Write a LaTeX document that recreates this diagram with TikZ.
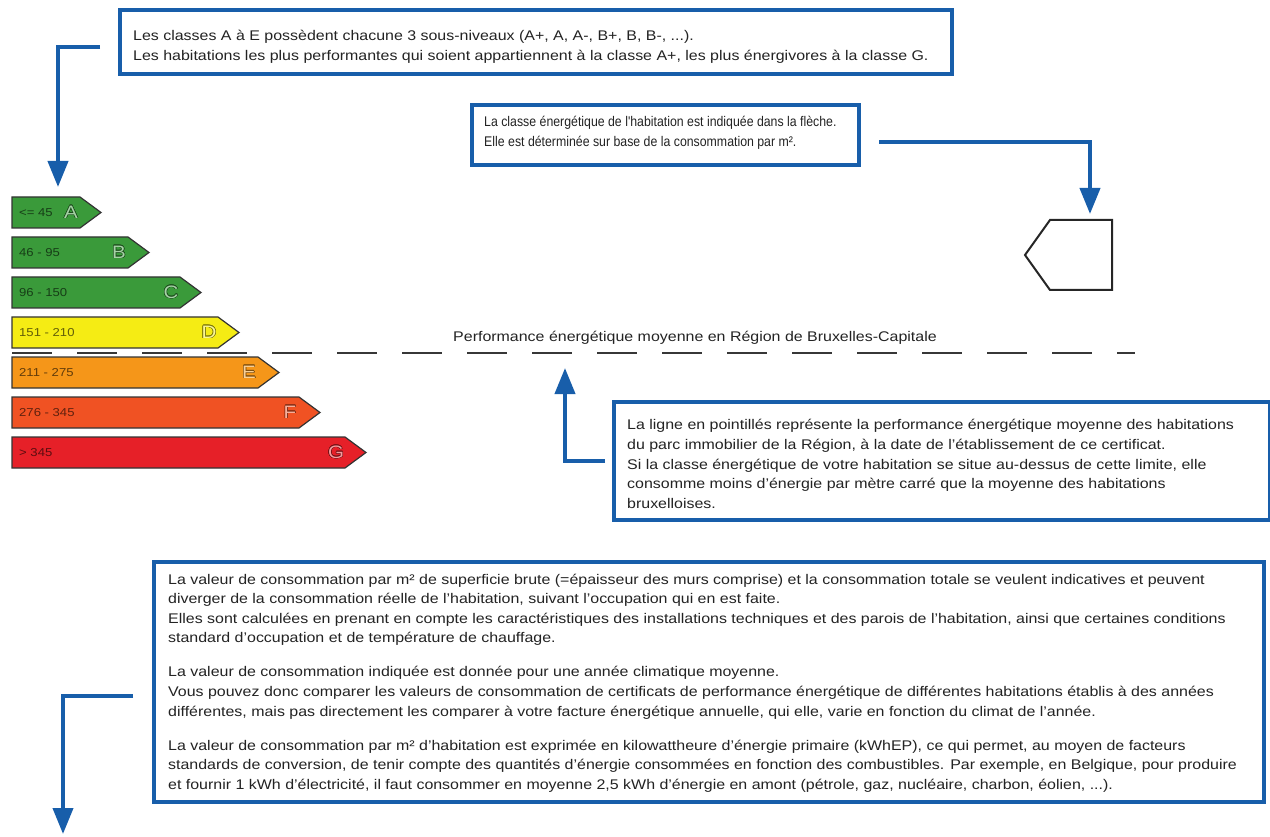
\documentclass[tikz,border=0pt]{standalone}
\usepackage{fontspec}
\setmainfont{Liberation Sans}[FakeStretch=1.14]
\newfontfamily\narrowfont{Liberation Sans}[FakeStretch=0.88]
\usepackage{contour}
\contourlength{0.5pt}
\usetikzlibrary{arrows.meta}
\definecolor{boxblue}{RGB}{24,94,170}
\definecolor{txt}{RGB}{35,35,35}
\definecolor{dashgray}{RGB}{55,55,55}
\definecolor{cA}{RGB}{58,154,58}
\definecolor{cD}{RGB}{245,236,20}
\definecolor{cE}{RGB}{245,150,25}
\definecolor{cF}{RGB}{240,82,35}
\definecolor{cG}{RGB}{230,32,40}
\newcommand{\bodyfont}{\fontsize{14}{19.6}\selectfont}
\begin{document}
\begin{tikzpicture}[x=1pt,y=-1pt,
  infobox/.style={draw=boxblue,line width=4pt,anchor=north west,inner sep=0pt,fill=white},
  infotext/.style={anchor=west,align=left,inner sep=0pt,font=\bodyfont,text=txt},
  conn/.style={draw=boxblue,line width=4pt,-{Triangle[width=20pt,length=26pt]}},
  bar/.style={draw=black!80,line width=1.2pt},
  barlabel/.style={anchor=west,inner sep=0pt,font=\fontsize{11.5}{12}\selectfont},
  barletter/.style={inner sep=0pt,font=\fontsize{18}{19}\selectfont}]
\useasboundingbox (0,0) rectangle (1270,837);

% energy bars
\foreach \i/\lab/\ltr/\col/\r in {0/{<= 45}/A/cA/80,1/{46 - 95}/B/cA/128,2/{96 - 150}/C/cA/180,3/{151 - 210}/D/cD/218,4/{211 - 275}/E/cE/258,5/{276 - 345}/F/cF/299,6/{> 345}/G/cG/345}{
  \pgfmathsetmacro{\tp}{197+40*\i}
  \path[bar,fill=\col] (12,\tp) -- (\r,\tp) -- ({\r+21},{\tp+15.5}) -- (\r,{\tp+31}) -- (12,{\tp+31}) -- cycle;
  \node[barlabel,text=\col!40!black] (lab\ltr) at (19,{\tp+16}) {\lab};
  \node[barletter] (let\ltr) at ({\r-9},{\tp+15.5}) {\contour{\col!50!black}{\textcolor{\col!45!white}{\ltr}}};
}

% average line
\draw[dashgray,line width=2.6pt,dash pattern=on 40pt off 25pt] (12,353) -- (1135,353);
\node[font=\bodyfont,text=txt,inner sep=0pt] (avgtext) at (695,338) {Performance énergétique moyenne en Région de Bruxelles-Capitale};

% indicator pentagon
\draw[line width=2pt,black!85] (1050,220) -- (1112,220) -- (1112,290) -- (1050,290) -- (1025,255) -- cycle;
\coordinate (pent) at (1090,214);

% boxes
\node[infobox,minimum width=832pt,minimum height=64pt] (box1) at (118,8) {};
\node[infotext] (t1) at ([xshift=15pt,yshift=-5pt]box1.west) {Les classes A à E possèdent chacune 3 sous-niveaux (A+, A, A-, B+, B, B-, ...).\\Les habitations les plus performantes qui soient appartiennent à la classe A+, les plus énergivores à la classe G.};

\node[infobox,minimum width=387pt,minimum height=60pt] (box2) at (470,103) {};
\node[infotext,font=\narrowfont\fontsize{14}{19.6}\selectfont] (t2) at ([xshift=14pt,yshift=2pt]box2.west) {La classe énergétique de l'habitation est indiquée dans la flèche.\\Elle est déterminée sur base de la consommation par m².};

\node[infobox,minimum width=656pt,minimum height=118pt] (box3) at (612,400) {};
\node[infotext] (t3) at ([xshift=15pt,yshift=-3pt]box3.west) {La ligne en pointillés représente la performance énergétique moyenne des habitations\\du parc immobilier de la Région, à la date de l'établissement de ce certificat.\\Si la classe énergétique de votre habitation se situe au-dessus de cette limite, elle\\consomme moins d'énergie par mètre carré que la moyenne des habitations\\bruxelloises.};

\node[infobox,minimum width=1110pt,minimum height=240pt] (box4) at (152,560) {};
\node[infotext] (t4) at ([xshift=16pt,yshift=-1pt]box4.west) {La valeur de consommation par m² de superficie brute (=épaisseur des murs comprise) et la consommation totale se veulent indicatives et peuvent\\diverger de la consommation réelle de l'habitation, suivant l'occupation qui en est faite.\\Elles sont calculées en prenant en compte les caractéristiques des installations techniques et des parois de l'habitation, ainsi que certaines conditions\\standard d'occupation et de température de chauffage.\\[14.5pt]La valeur de consommation indiquée est donnée pour une année climatique moyenne.\\Vous pouvez donc comparer les valeurs de consommation de certificats de performance énergétique de différentes habitations établis à des années\\différentes, mais pas directement les comparer à votre facture énergétique annuelle, qui elle, varie en fonction du climat de l'année.\\[14.5pt]La valeur de consommation par m² d'habitation est exprimée en kilowattheure d'énergie primaire (kWhEP), ce qui permet, au moyen de facteurs\\standards de conversion, de tenir compte des quantités d'énergie consommées en fonction des combustibles. Par exemple, en Belgique, pour produire\\et fournir 1 kWh d'électricité, il faut consommer en moyenne 2,5 kWh d'énergie en amont (pétrole, gaz, nucléaire, charbon, éolien, ...).};

% connectors
\coordinate (c1end) at (58,187);
\coordinate (c3end) at (565,368);
\coordinate (c4end) at (63,834);
\draw[conn,shorten <=18pt] ([yshift=-5pt]box1.west) -| (c1end);
\draw[conn,shorten <=18pt] ([yshift=-7pt]box2.east) -| (pent);
\draw[conn,shorten <=7pt] (box3.west) -| (c3end);
\draw[conn,shorten <=19pt] ([yshift=-14pt]box4.west) -| (c4end);
\end{tikzpicture}
\end{document}
